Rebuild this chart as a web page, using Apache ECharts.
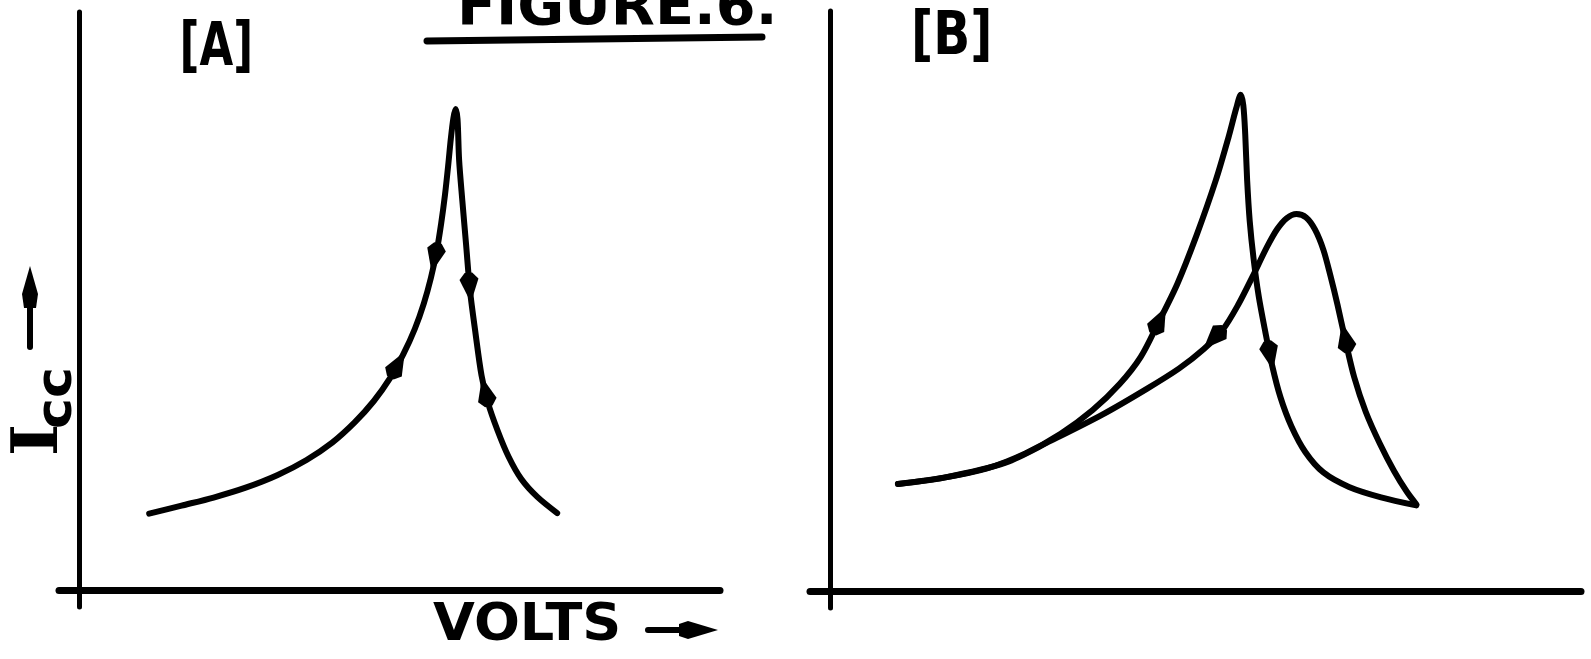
<!DOCTYPE html>
<html>
<head>
<meta charset="utf-8">
<script src="https://cdn.jsdelivr.net/npm/echarts@6/dist/echarts.min.js"></script>
<style>
html,body{margin:0;padding:0;background:#fff;}
#chart{width:1591px;height:659px;}
</style>
</head>
<body>
<div id="chart"></div>
<script>
// ---------------- DATA (arbitrary units) ----------------
const figureTitle = 'FIGURE.6.';
const panelLabels = ['[A]', '[B]'];
const xAxisName = 'VOLTS';
const yAxisName = 'I';
const yAxisSub = 'cc';

// Panel A: single sharp peak (rising branch then falling branch)
const curveA = [
  [10.95,13.2],[16.0,14.6],[21.0,16.0],[26.0,17.7],[31.0,19.9],[35.5,22.5],[39.5,25.5],
  [43.0,29.0],[46.0,32.7],[48.5,36.6],[50.6,40.8],[52.4,45.2],[53.8,49.6],[54.9,54.0],
  [55.8,58.6],[56.5,63.4],[57.1,68.4],[57.6,73.5],[58.0,78.0],[58.4,81.6],[58.75,83.2],
  [59.05,81.5],[59.3,74.4],[59.8,67.4],[60.4,59.6],[61.0,51.8],[61.8,44.9],[62.8,37.1],
  [63.8,32.4],[65.3,27.6],[67.0,23.1],[69.0,19.2],[71.5,16.1],[74.6,13.3]
];
// arrows on curve A: [x, y, direction along curve order]
const arrowsA = [[49.7,39.0,1],[55.5,57.5,-1],[60.95,52.3,1],[63.4,34.3,-1]];

// Panel B: sharp peak curve
const curveB1 = [
  [10.6,18.5],[17.8,19.6],[24.5,21.2],[30.5,23.8],[36.0,27.2],[41.0,31.3],[45.2,35.8],
  [48.5,40.5],[51.2,46.3],[54.2,53.1],[57.2,61.5],[60.2,71.0],[62.2,78.5],[63.4,83.5],
  [64.1,85.8],[64.5,84.0],[64.8,79.0],[65.1,71.0],[65.5,64.0],[66.1,57.5],[66.9,51.0],
  [67.9,45.0],[69.0,39.0],[70.3,33.5],[72.0,28.5],[74.2,24.0],[77.0,20.5],[81.0,18.0],
  [86.0,16.2],[91.5,14.8]
];
// Panel B: rounded peak curve
const curveB2 = [
  [10.6,18.5],[17.8,19.6],[27.4,22.2],[34.5,26.0],[42.5,30.5],[49.5,35.0],[54.5,38.5],
  [58.3,41.8],[61.3,45.2],[63.7,49.5],[66.0,54.5],[68.2,59.5],[69.8,62.6],[71.3,64.5],
  [72.8,65.2],[74.3,64.6],[75.7,62.5],[77.0,59.0],[78.1,54.5],[79.2,49.5],[80.4,43.5],
  [81.8,37.0],[83.6,31.0],[85.8,25.5],[88.0,20.8],[90.0,17.2],[91.5,15.0]
];
const arrowsB1 = [[51.4,46.8,1],[68.7,40.7,1]];
const arrowsB2 = [[59.9,43.7,-1],[80.4,43.8,-1]];

// ---------------- CHART ----------------
const chart = echarts.init(document.getElementById('chart'), null, {renderer:'canvas'});

function axisCommon(extra){
  return Object.assign({
    type:'value',
    axisTick:{show:false}, axisLabel:{show:false}, splitLine:{show:false}
  }, extra);
}
const lineCurve = (data, xi) => ({
  type:'line', xAxisIndex:xi, yAxisIndex:xi, data:data, showSymbol:false, smooth:0.3,
  lineStyle:{color:'#000', width:6, cap:'round', join:'round'}, silent:true, z:3
});

// Text fitting helper (measures real glyph box, then scales to target box)
const mctx = document.createElement('canvas').getContext('2d');
function fitText(text, font, box, rotated){
  mctx.font = font; mctx.textAlign = 'left'; mctx.textBaseline = 'middle';
  const m = mctx.measureText(text);
  const bl = m.actualBoundingBoxLeft, br = m.actualBoundingBoxRight;
  const asc = m.actualBoundingBoxAscent, desc = m.actualBoundingBoxDescent;
  const el = {type:'text', z:10, style:{text:text, font:font, fill:'#000',
    align:'left', textAlign:'left', verticalAlign:'middle', textVerticalAlign:'middle'}};
  if (!rotated){
    const sx = (box.x1-box.x0)/(bl+br), sy = (box.y1-box.y0)/(asc+desc);
    el.x = box.x0 + bl*sx; el.y = box.y0 + asc*sy; el.scaleX = sx; el.scaleY = sy;
  } else {
    // rotated 90deg anticlockwise: reads bottom to top, glyph tops point left
    const sx = (box.y1-box.y0)/(bl+br), sy = (box.x1-box.x0)/(asc+desc);
    el.x = box.x0 + asc*sy; el.y = box.y1 - bl*sx; el.scaleX = sx; el.scaleY = sy;
    el.rotation = Math.PI/2;
  }
  return el;
}

const FONT = '"DejaVu Sans", sans-serif';
const graphics = [
  fitText(figureTitle, 'bold 56px ' + FONT, {x0:462, x1:772, y0:-16, y1:26}),
  {type:'line', z:10, shape:{x1:427,y1:41,x2:762,y2:37}, style:{stroke:'#000', lineWidth:7, lineCap:'round'}},
  fitText(panelLabels[0], 'bold 62px ' + FONT, {x0:183, x1:250, y0:19, y1:74}),
  fitText(panelLabels[1], 'bold 62px ' + FONT, {x0:915, x1:989, y0:8, y1:63}),
  fitText(xAxisName, 'bold 56px ' + FONT, {x0:433, x1:618, y0:602, y1:642}),
  {type:'line', z:10, shape:{x1:648,y1:630,x2:690,y2:630}, style:{stroke:'#000', lineWidth:6, lineCap:'round'}},
  {type:'polygon', z:10, shape:{points:[[718,630],[688,621],[679,624],[679,636],[688,639]]}, style:{fill:'#000'}},
  fitText(yAxisName, 'bold 64px "DejaVu Serif", serif', {x0:10, x1:57, y0:427, y1:453}, true),
  fitText(yAxisSub, 'bold 52px ' + FONT, {x0:43, x1:72, y0:370, y1:427}, true),
  {type:'line', z:10, shape:{x1:30,y1:347,x2:30,y2:300}, style:{stroke:'#000', lineWidth:6, lineCap:'round'}},
  {type:'polygon', z:10, shape:{points:[[30,266],[38,294],[36,308],[24,308],[22,294]]}, style:{fill:'#000'}}
];

const ARROW = 'path://M10,0 L20,25 L14,32 L6,32 L0,25 Z';
const arrowSeries = (id, xi) => ({
  type:'scatter', id:id, xAxisIndex:xi, yAxisIndex:xi, data:[], symbol:ARROW, symbolSize:[19,30],
  itemStyle:{color:'#000', opacity:1}, z:4, silent:true
});
const option = {
  backgroundColor:'#fff',
  animation:false,
  grid:[
    {left:59, top:12, width:661, height:595},
    {left:810, top:11, width:771, height:597}
  ],
  xAxis:[
    axisCommon({gridIndex:0, min:-3.12, max:100,
      axisLine:{show:true, onZero:true, lineStyle:{color:'#000', width:7, cap:'round'}}}),
    axisCommon({gridIndex:1, min:-3.12, max:117.2,
      axisLine:{show:true, onZero:true, lineStyle:{color:'#000', width:7, cap:'round'}}})
  ],
  yAxis:[
    axisCommon({gridIndex:0, min:-2.94, max:100,
      axisLine:{show:true, onZero:true, lineStyle:{color:'#000', width:5, cap:'round'}}}),
    axisCommon({gridIndex:1, min:-2.94, max:100.3,
      axisLine:{show:true, onZero:true, lineStyle:{color:'#000', width:5, cap:'round'}}})
  ],
  graphic: graphics,
  series:[
    lineCurve(curveA, 0),
    lineCurve(curveB1, 1),
    lineCurve(curveB2, 1),
    arrowSeries('arrA', 0),
    arrowSeries('arrB', 1)
  ]
};
chart.setOption(option);

// arrowhead orientation follows the local curve direction (in pixel space)
function arrowItems(curve, arrows, gridIndex){
  const px = curve.map(p => chart.convertToPixel({gridIndex:gridIndex}, p));
  return arrows.map(a => {
    const q = chart.convertToPixel({gridIndex:gridIndex}, [a[0], a[1]]);
    let best = 0, bd = Infinity;
    for (let i = 0; i < px.length-1; i++){
      const [x1,y1] = px[i], [x2,y2] = px[i+1];
      const vx = x2-x1, vy = y2-y1, L = vx*vx+vy*vy;
      let t = L ? ((q[0]-x1)*vx + (q[1]-y1)*vy)/L : 0;
      t = Math.max(0, Math.min(1, t));
      const dx = x1+t*vx-q[0], dy = y1+t*vy-q[1], d = dx*dx+dy*dy;
      if (d < bd){ bd = d; best = i; }
    }
    const dx = (px[best+1][0]-px[best][0])*a[2];
    const dy = (px[best+1][1]-px[best][1])*a[2];
    return {value:[a[0], a[1]], symbolRotate: Math.atan2(-dx, -dy)*180/Math.PI};
  });
}
chart.setOption({series:[
  {id:'arrA', data: arrowItems(curveA, arrowsA, 0)},
  {id:'arrB', data: arrowItems(curveB1, arrowsB1, 1).concat(arrowItems(curveB2, arrowsB2, 1))}
]});
</script>
</body>
</html>
